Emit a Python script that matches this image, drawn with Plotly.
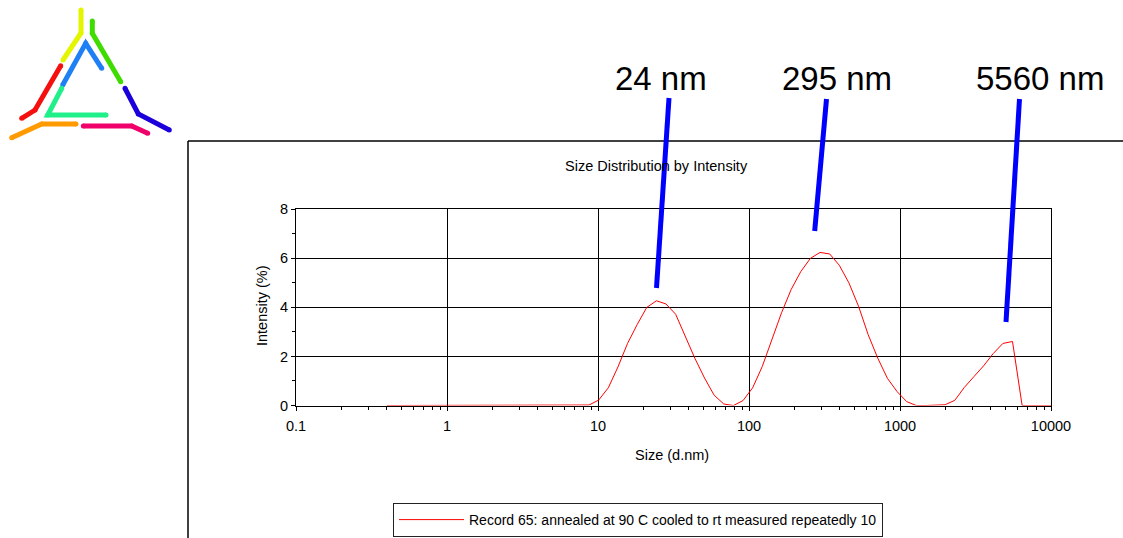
import plotly.graph_objects as go

W, H = 1123, 538

# Size classes (d.nm) of the intensity distribution
size_nm = [
    0.400, 0.463, 0.536, 0.621, 0.719, 0.833, 0.965, 1.117, 1.294, 1.499,
    1.736, 2.010, 2.328, 2.696, 3.122, 3.616, 4.187, 4.849, 5.616, 6.504,
    7.532, 8.723, 10.10, 11.70, 13.55, 15.69, 18.17, 21.04, 24.37, 28.22,
    32.68, 37.85, 43.83, 50.76, 58.78, 68.08, 78.84, 91.30, 105.7, 122.4,
    141.8, 164.2, 190.2, 220.2, 255.1, 295.4, 342.1, 396.1, 458.8, 531.3,
    615.3, 712.5, 825.2, 955.6, 1107, 1282, 1484, 1719, 1990, 2305,
    2669, 3091, 3580, 4146, 4801, 5560, 6439, 7457, 8635, 10000,
]

# Intensity (%) per size class
intensity_pct = [
    0, 0, 0, 0, 0, 0, 0, 0, 0, 0,
    0, 0, 0, 0, 0, 0, 0, 0, 0, 0,
    0, 0.02, 0.22, 0.72, 1.57, 2.53, 3.30, 4.00, 4.27, 4.14,
    3.72, 2.80, 1.92, 1.12, 0.42, 0.06, 0.00, 0.20, 0.72, 1.59,
    2.68, 3.78, 4.73, 5.46, 6.00, 6.24, 6.18, 5.72, 5.00, 4.05,
    2.89, 1.93, 1.11, 0.57, 0.16, 0, 0, 0, 0.03, 0.21,
    0.74, 1.18, 1.62, 2.12, 2.53, 2.61, 0, 0, 0, 0,
]

x_tick_vals = [0.1, 1, 10, 100, 1000, 10000]
x_tick_text = ["0.1", "1", "10", "100", "1000", "10000"]
y_tick_vals = [0, 2, 4, 6, 8]

peak_labels = ["24 nm", "295 nm", "5560 nm"]
record_name = "Record 65: annealed at 90 C cooled to rt measured repeatedly 10"

FONT = "Liberation Sans, Arial, sans-serif"


def px(x, y):
    """Pixel position on the page -> paper coordinates."""
    return x / W, 1 - y / H


fig = go.Figure()

fig.add_trace(go.Scatter(
    x=size_nm, y=intensity_pct, mode="lines",
    line=dict(color="#ff0000", width=1),
    name=record_name, showlegend=True, hoverinfo="skip",
))

# Logo: coloured strokes arranged as a triangle
logo_strokes = [
    ("#e4f500", [(81, 10), (81, 33), (63, 60)]),
    ("#3fdc00", [(92.3, 21), (92.3, 33.3), (120.7, 81.7)]),
    ("#1f80f5", [(62.7, 85), (85.7, 43.3), (101.7, 68.3)]),
    ("#f51010", [(60.7, 65.7), (35, 110), (21.7, 118.3)]),
    ("#1ff08a", [(61.7, 88.3), (47.7, 115), (106, 115)]),
    ("#1c00dc", [(125, 88.3), (138.3, 114), (169.3, 130)]),
    ("#ff9a00", [(11.7, 137.7), (41.7, 124), (76, 124)]),
    ("#f0006a", [(83.3, 126), (131.7, 126), (147.7, 133.3)]),
]
for color, pts in logo_strokes:
    fig.add_trace(go.Scatter(
        x=[p[0] for p in pts], y=[p[1] for p in pts],
        mode="lines+markers", xaxis="x2", yaxis="y2",
        line=dict(color=color, width=5),
        marker=dict(color=color, size=5, line=dict(width=0)),
        showlegend=False, hoverinfo="skip",
    ))

minor_x = [m * 10 ** d for d in range(-1, 4) for m in range(2, 10)]

axis_font = dict(family=FONT, size=14.5, color="black")

fig.update_layout(
    width=W, height=H,
    margin=dict(l=0, r=0, t=0, b=0, autoexpand=False),
    paper_bgcolor="white",
    plot_bgcolor="rgba(0,0,0,0)",
    hovermode=False,
    showlegend=True,
    font=axis_font,
    xaxis=dict(
        type="log", range=[-1, 4],
        domain=[296 / W, 1051 / W],
        tickvals=x_tick_vals, ticktext=x_tick_text,
        ticks="outside", ticklen=4, tickcolor="black", tickwidth=1,
        ticklabelstandoff=3,
        showgrid=True, gridcolor="black", gridwidth=1,
        showline=True, linecolor="black", linewidth=1, mirror=True,
        zeroline=False,
        minor=dict(tickvals=minor_x, ticks="outside", ticklen=3,
                   tickcolor="black", showgrid=False),
        tickfont=axis_font,
    ),
    yaxis=dict(
        range=[0, 8],
        domain=[1 - 405.5 / H, 1 - 209.3 / H],
        tickvals=y_tick_vals,
        ticks="outside", ticklen=4, tickcolor="black", tickwidth=1,
        showgrid=True, gridcolor="black", gridwidth=1,
        showline=True, linecolor="black", linewidth=1, mirror=True,
        zeroline=False,
        minor=dict(dtick=1, ticks="outside", ticklen=3,
                   tickcolor="black", showgrid=False),
        tickfont=axis_font,
    ),
    xaxis2=dict(domain=[0, 1], range=[0, W], visible=False, fixedrange=True),
    yaxis2=dict(domain=[0, 1], range=[H, 0], visible=False, fixedrange=True,
                anchor="x2"),
    legend=dict(
        x=393 / W, y=1 - 503 / H, xanchor="left", yanchor="top",
        bgcolor="white", bordercolor="#222222", borderwidth=1,
        font=dict(family=FONT, size=14, color="black"),
        itemwidth=65,
    ),
)

shapes = []
# Outer chart frame (top and left edges)
x0, y0 = px(188, 141)
shapes.append(dict(type="line", xref="paper", yref="paper",
                   x0=x0, y0=y0, x1=1, y1=y0,
                   line=dict(color="black", width=1.5)))
shapes.append(dict(type="line", xref="paper", yref="paper",
                   x0=x0, y0=y0, x1=x0, y1=0,
                   line=dict(color="black", width=1.5)))

# Pointer lines from peak labels down to the peaks
pointers = [((669, 98), (656.5, 288)),
            ((826.5, 99), (814.7, 231)),
            ((1019.5, 99), (1006, 322))]
for (xa, ya), (xb, yb) in pointers:
    ax0, ay0 = px(xa, ya)
    ax1, ay1 = px(xb, yb)
    shapes.append(dict(type="line", xref="paper", yref="paper",
                       x0=ax0, y0=ay0, x1=ax1, y1=ay1,
                       line=dict(color="#0000ff", width=5)))
fig.update_layout(shapes=shapes)

annotations = []
label_pos = [(660.5, 79), (836.5, 79), (1040, 79)]
for text, (lx, ly) in zip(peak_labels, label_pos):
    ax_, ay_ = px(lx, ly)
    annotations.append(dict(text=text, x=ax_, y=ay_, xref="paper", yref="paper",
                            xanchor="center", yanchor="middle", showarrow=False,
                            font=dict(family=FONT, size=33, color="black")))

tx, ty = px(656.5, 166)
annotations.append(dict(text="Size Distribution by Intensity", x=tx, y=ty,
                        xref="paper", yref="paper", xanchor="center",
                        yanchor="middle", showarrow=False, font=axis_font))
sx, sy = px(672, 455)
annotations.append(dict(text="Size (d.nm)", x=sx, y=sy,
                        xref="paper", yref="paper", xanchor="center",
                        yanchor="middle", showarrow=False, font=axis_font))
ix, iy = px(262, 306)
annotations.append(dict(text="Intensity (%)", x=ix, y=iy, textangle=-90,
                        xref="paper", yref="paper", xanchor="center",
                        yanchor="middle", showarrow=False, font=axis_font))
fig.update_layout(annotations=annotations)

fig.write_html("out.html")
